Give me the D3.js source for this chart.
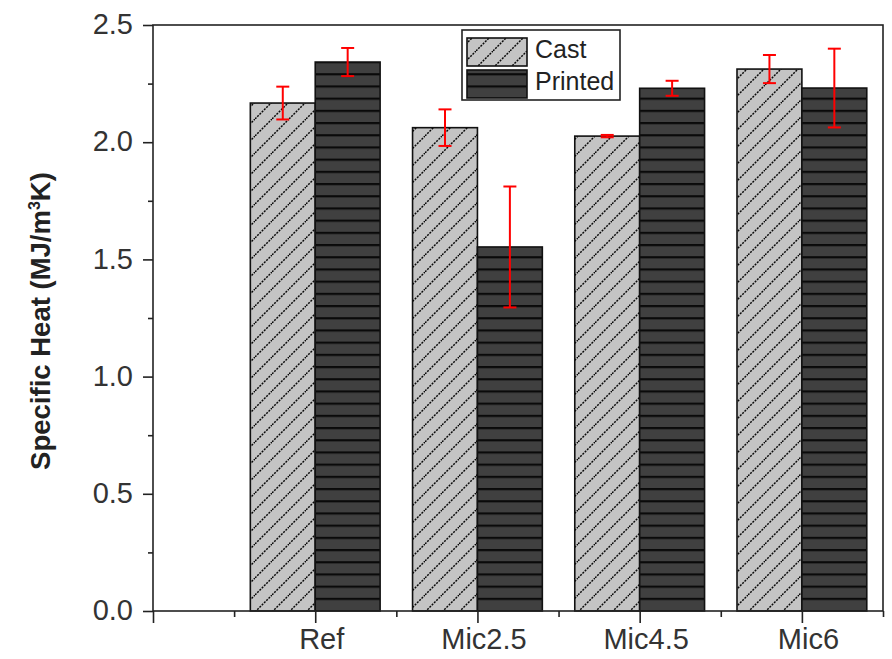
<!DOCTYPE html>
<html>
<head>
<meta charset="utf-8">
<script src="https://cdn.jsdelivr.net/npm/d3@7/dist/d3.min.js"></script>
<style>
  body { margin: 0; background: #fff; }
  svg { display: block; }
  text { font-family: "Liberation Sans", Arial, sans-serif; }
</style>
</head>
<body>
<svg id="chart" width="892" height="659"></svg>
<script>
const categories = ["Ref", "Mic2.5", "Mic4.5", "Mic6"];
const seriesNames = ["Cast", "Printed"];
const castValues = [2.167, 2.062, 2.026, 2.312];
const castErrors = [0.070, 0.078, 0.005, 0.060];
const printedValues = [2.342, 1.553, 2.230, 2.231];
const printedErrors = [0.060, 0.258, 0.032, 0.168];
const yTickValues = [0, 0.5, 1.0, 1.5, 2.0, 2.5];

(function () {
const svg = d3.select("#chart");
const mLeft = 153, mRight = 883, mTop = 25, mBottom = 611;

const x = d3.scaleLinear().domain([0, 4.5]).range([mLeft, mRight]);
const y = d3.scaleLinear().domain([0, 2.5]).range([mBottom, mTop]);
const barW = x(0.4) - x(0);

const defs = svg.append("defs");
const P = 17;
const diag = defs.append("pattern").attr("id", "diag")
  .attr("patternUnits", "userSpaceOnUse").attr("width", P).attr("height", P);
diag.append("rect").attr("width", P).attr("height", P).attr("fill", "#c4c4c4");
diag.append("path")
  .attr("d", `M0,${P} L${P},0 M-2,2 L2,-2 M${P - 2},${P + 2} L${P + 2},${P - 2}`)
  .attr("stroke", "#0a0a0a").attr("stroke-width", 1.5).attr("stroke-dasharray", "2,1.2");

const horiz = defs.append("pattern").attr("id", "horiz")
  .attr("patternUnits", "userSpaceOnUse").attr("width", 10).attr("height", 12.2);
horiz.append("rect").attr("width", 10).attr("height", 12.2).attr("fill", "#404040");
horiz.append("rect").attr("x", 0).attr("y", 0).attr("width", 10).attr("height", 2.2)
  .attr("fill", "#0a0a0a");

const table = [];
categories.forEach((c, i) => {
  table.push({cat: c, idx: i + 1, series: 0, v: castValues[i], e: castErrors[i]});
  table.push({cat: c, idx: i + 1, series: 1, v: printedValues[i], e: printedErrors[i]});
});

svg.append("g").selectAll("rect").data(table).enter().append("rect")
  .attr("x", d => d.series === 0 ? x(d.idx) - barW : x(d.idx))
  .attr("y", d => y(d.v))
  .attr("width", barW)
  .attr("height", d => y(0) - y(d.v))
  .attr("fill", d => d.series === 0 ? "url(#diag)" : "url(#horiz)")
  .attr("stroke", "#111")
  .attr("stroke-width", 1.6);

const eg = svg.append("g").attr("stroke", "#f00").attr("stroke-width", 2);
table.forEach(d => {
  const cx = d.series === 0 ? x(d.idx) - barW / 2 : x(d.idx) + barW / 2;
  eg.append("line").attr("x1", cx).attr("x2", cx).attr("y1", y(d.v + d.e)).attr("y2", y(d.v - d.e));
  eg.append("line").attr("x1", cx - 6.5).attr("x2", cx + 6.5).attr("y1", y(d.v + d.e)).attr("y2", y(d.v + d.e));
  eg.append("line").attr("x1", cx - 6.5).attr("x2", cx + 6.5).attr("y1", y(d.v - d.e)).attr("y2", y(d.v - d.e));
});

svg.append("rect").attr("x", mLeft).attr("y", mTop).attr("width", mRight - mLeft).attr("height", mBottom - mTop)
  .attr("fill", "none").attr("stroke", "#222").attr("stroke-width", 1.6);

const yAxis = d3.axisLeft(y).tickValues(yTickValues).tickFormat(d3.format(".1f")).tickSize(10).tickPadding(10);
const yg = svg.append("g").attr("transform", `translate(${mLeft},0)`).call(yAxis);
const yMinor = d3.axisLeft(y).tickValues([0.25, 0.75, 1.25, 1.75, 2.25]).tickFormat("").tickSize(5);
const ygm = svg.append("g").attr("transform", `translate(${mLeft},0)`).call(yMinor);

const xAxis = d3.axisBottom(x).tickValues([0, 1, 2, 3, 4])
  .tickFormat(d => d >= 1 ? categories[d - 1] : "").tickSize(12).tickPadding(8);
const xg = svg.append("g").attr("transform", `translate(0,${mBottom})`).call(xAxis);
const xMinor = d3.axisBottom(x).tickValues([0.5, 1.5, 2.5, 3.5, 4.5]).tickFormat("").tickSize(6);
const xgm = svg.append("g").attr("transform", `translate(0,${mBottom})`).call(xMinor);

[yg, ygm, xg, xgm].forEach(g => {
  g.select(".domain").remove();
  g.selectAll(".tick line").attr("stroke", "#222").attr("stroke-width", 1.6);
  g.selectAll("text").attr("fill", "#333").style("font-size", "29px");
});
yg.selectAll("text").attr("dy", "0.3em");
xg.selectAll("text").attr("y", 38).attr("dy", 0).attr("dx", 6);

svg.append("text")
  .attr("transform", "translate(50,321) rotate(-90)")
  .attr("text-anchor", "middle")
  .attr("fill", "#222")
  .style("font-size", "27.5px").style("font-weight", "bold")
  .html('Specific Heat (MJ/m<tspan dy="-10" font-size="16px">3</tspan><tspan dy="10">K)</tspan>');

const lg = svg.append("g");
lg.append("rect").attr("x", 462).attr("y", 30).attr("width", 158).attr("height", 70)
  .attr("fill", "#fff").attr("stroke", "#222").attr("stroke-width", 1.6);
const legendFills = ["url(#diag)", "url(#horiz)"];
seriesNames.forEach((name, i) => {
  const yy = 38 + i * 32;
  lg.append("rect").attr("x", 467).attr("y", yy).attr("width", 60).attr("height", 28)
    .attr("fill", legendFills[i]).attr("stroke", "#111").attr("stroke-width", 1.6);
  lg.append("text").attr("x", 535).attr("y", yy + 20)
    .attr("fill", "#222").style("font-size", "25px").text(name);
});
})();
</script>
</body>
</html>
